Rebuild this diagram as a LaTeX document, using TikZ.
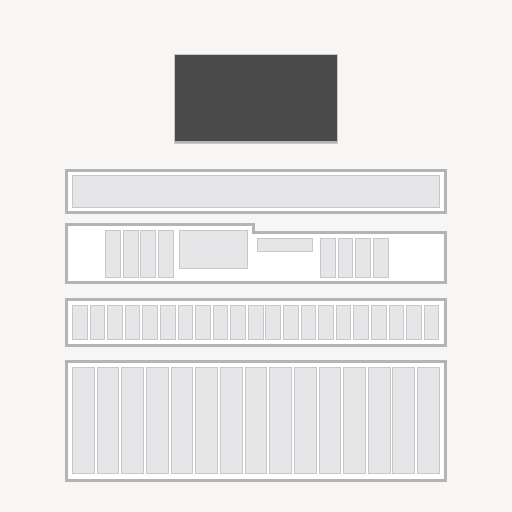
\documentclass[tikz,border=0pt]{standalone}
\definecolor{bgcol}{HTML}{F7F6F4}
\definecolor{darkcol}{HTML}{4B4B4B}
\definecolor{framecol}{HTML}{B4B4B4}
\definecolor{barcol}{HTML}{E6E6E8}
\definecolor{baredge}{HTML}{C8C8C8}
\tikzset{
  frame/.style={draw=framecol,line width=3pt,fill=white},
  bar/.style={draw=baredge,line width=1pt,fill=barcol}
}
\begin{document}
\begin{tikzpicture}[x=1pt,y=-1pt]
        \fill[bgcol](0,0) rectangle (512,512);
        \useasboundingbox (0,0) rectangle (512,512);
        % top dark panel
        \fill[darkcol,draw=baredge,line width=0.8pt](174.5,54.5) rectangle (337.5,143.8);
        \fill[framecol](175,140.8) rectangle (337,142.6);
        % first frame
        \draw[frame](66.5,170.5) rectangle (445.5,212.5);
        \draw[bar](72.2,175.8) rectangle (439.6,207.2);
        % second frame with step
        \draw[frame](66.5,224.5) -- (253.5,224.5) -- (253.5,232.5) -- (445.5,232.5) -- (445.5,282.8) -- (66.5,282.8) -- cycle;
        \foreach \x in {105.5,123.3,140.6,158.3}
            \draw[bar](\x,230.5) rectangle ++(14.8,46.5);
        \draw[bar](179.3,230.5) rectangle (247.3,268.3);
        \draw[bar](257.4,238.7) rectangle (312.3,251.3);
        \foreach \x in {320.4,338.1,355.7,373.3}
            \draw[bar](\x,238.5) rectangle ++(14.8,38.5);
        % third frame, small bars
        \draw[frame](66.5,299.5) rectangle (445.5,345.2);
        \foreach \i in {0,...,20}
            \draw[bar]({72.5+\i*17.59},305.5) rectangle ++(14.6,33.7);
        % fourth frame, tall bars
        \draw[frame](66.5,361.5) rectangle (445.5,480.2);
        \foreach \i in {0,...,14}
            \draw[bar]({72.5+\i*24.65},367.5) rectangle ++(21.7,106.3);
\end{tikzpicture}
\end{document}
